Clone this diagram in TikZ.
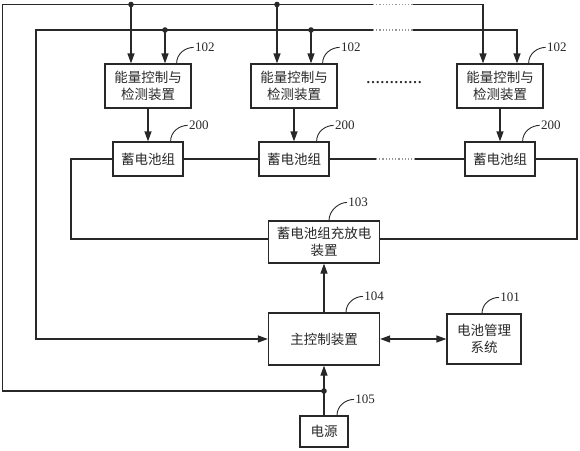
\documentclass[tikz,border=0pt]{standalone}
\definecolor{inkgray}{RGB}{40, 40, 40}
\definecolor{dotgray}{RGB}{150, 150, 150}
\usepackage{fontspec}
\setmainfont{Liberation Serif}
\newfontfamily\cjk{Noto Sans CJK SC}
\usepackage{tikz}
\usetikzlibrary{arrows.meta, positioning, calc}

\tikzset{
  box/.style={draw=inkgray, line width=1.2pt, text=inkgray, align=center, inner sep=2pt, font=\cjk\fontsize{13.5}{17}\selectfont},
  arr/.style={-{Triangle[length=10pt, width=7pt]}},
  tagline/.style={line width=0.9pt},
  tag/.style={anchor=west, inner sep=1pt, text=inkgray, font=\fontsize{13}{15}\selectfont},
  gapline/.style={dotgray, line width=1.2pt, dotted}
}

\begin{document}
\begin{tikzpicture}[x=1pt, y=-1pt, line width=1.2pt, draw=inkgray, inkgray]
  \useasboundingbox (0,0) rectangle (580,450);

  % Energy control and detection devices
  \node[box, minimum width=86pt, minimum height=44pt] (ctrl1) at (148, 86) {能量控制与\\检测装置};
  \node[box, minimum width=86pt, minimum height=44pt] (ctrl2) at (294, 86) {能量控制与\\检测装置};
  \node[box, minimum width=86pt, minimum height=44pt] (ctrl3) at (500, 86) {能量控制与\\检测装置};
  \node[text=inkgray, font=\bfseries\fontsize{14}{15}\selectfont] (more) at (394, 83) {…………};

  % Battery packs
  \node[box, minimum width=70pt, minimum height=34pt] (bat1) at (148, 159) {蓄电池组};
  \node[box, minimum width=70pt, minimum height=34pt] (bat2) at (294, 159) {蓄电池组};
  \node[box, minimum width=70pt, minimum height=34pt] (bat3) at (500, 159) {蓄电池组};

  % Charge / discharge device
  \node[box, minimum width=111pt, minimum height=42pt] (chg) at (324, 242) {蓄电池组充放电\\装置};

  % Main controller, BMS, power supply
  \node[box, minimum width=111pt, minimum height=52pt] (mcu) at (324, 339) {主控制装置};
  \node[box, minimum width=74pt, minimum height=50pt] (bms) at (484, 339) {电池管理\\系统};
  \node[box, minimum width=48pt, minimum height=31pt] (pwr) at (324, 431.5) {电源};

  % Junctions
  \coordinate (pj) at (324, 391);
  \coordinate (pj1) at (131, 4.5);
  \coordinate (pj2) at (277, 4.5);
  \coordinate (pgapL) at (373, 4.5);
  \coordinate (pgapR) at (413, 4.5);
  \coordinate (sj1) at (165, 30);
  \coordinate (sj2) at (311, 30);
  \coordinate (sgapL) at (373, 30);
  \coordinate (sgapR) at (413, 30);

  % Power line
  \draw (pwr.north) -- (pj);
  \draw[arr] (pj) -- (mcu.south);
  \draw (pj) -- (2.5, 391) |- (pgapL);
  \draw[gapline] (pgapL) -- (pgapR);
  \draw[arr] (pgapR) -| ([xshift=-17pt]ctrl3.north);
  \draw[arr] (pj1) -- ([xshift=-17pt]ctrl1.north);
  \draw[arr] (pj2) -- ([xshift=-17pt]ctrl2.north);
  \fill (pj) circle (2.8pt);
  \fill (pj1) circle (2.8pt);
  \fill (pj2) circle (2.8pt);

  % Control line
  \draw[arr] (sgapL) -- (36, 30) |- (mcu.west);
  \draw[gapline] (sgapL) -- (sgapR);
  \draw[arr] (sgapR) -| ([xshift=17pt]ctrl3.north);
  \draw[arr] (sj1) -- ([xshift=17pt]ctrl1.north);
  \draw[arr] (sj2) -- ([xshift=17pt]ctrl2.north);
  \fill (sj1) circle (2.8pt);
  \fill (sj2) circle (2.8pt);

  % Devices to packs
  \draw[arr] (ctrl1) -- (bat1);
  \draw[arr] (ctrl2) -- (bat2);
  \draw[arr] (ctrl3) -- (bat3);

  % Series loop through the charger
  \draw (bat1.east) -- (bat2.west);
  \draw (bat2.east) -- (376, 159);
  \draw[gapline] (376, 159) -- (415, 159);
  \draw (415, 159) -- (bat3.west);
  \draw (bat1.west) -- (71, 159) |- ([yshift=3pt]chg.west);
  \draw (bat3.east) -- (577, 159) |- ([yshift=3pt]chg.east);

  % Controller links
  \draw[arr] (mcu.north) -- (chg.south);
  \draw[{Triangle[length=10pt, width=7pt]}-{Triangle[length=10pt, width=7pt]}] (mcu.east) -- (bms.west);

  % Reference numerals
  \draw[tagline] ([xshift=-15pt]ctrl1.north east) .. controls +(0,-10) and +(-8,0) .. ++(17,-16) node[tag] {102};
  \draw[tagline] ([xshift=-15pt]ctrl2.north east) .. controls +(0,-10) and +(-8,0) .. ++(17,-16) node[tag] {102};
  \draw[tagline] ([xshift=-15pt]ctrl3.north east) .. controls +(0,-10) and +(-8,0) .. ++(17,-16) node[tag] {102};
  \draw[tagline] ([xshift=-13pt]bat1.north east) .. controls +(0,-10) and +(-8,0) .. ++(17,-16) node[tag] {200};
  \draw[tagline] ([xshift=-13pt]bat2.north east) .. controls +(0,-10) and +(-8,0) .. ++(17,-16) node[tag] {200};
  \draw[tagline] ([xshift=-13pt]bat3.north east) .. controls +(0,-10) and +(-8,0) .. ++(17,-16) node[tag] {200};
  \draw[tagline] ([xshift=5pt]chg.north) .. controls +(0,-10) and +(-8,0) .. ++(18,-18) node[tag] {103};
  \draw[tagline] ([xshift=22pt]mcu.north) .. controls +(0,-10) and +(-8,0) .. ++(17,-16) node[tag] {104};
  \draw[tagline] ([xshift=-2pt]bms.north) .. controls +(0,-10) and +(-8,0) .. ++(17,-16) node[tag] {101};
  \draw[tagline] ([xshift=13pt]pwr.north) .. controls +(0,-10) and +(-8,0) .. ++(17,-16) node[tag] {105};
\end{tikzpicture}
\end{document}
